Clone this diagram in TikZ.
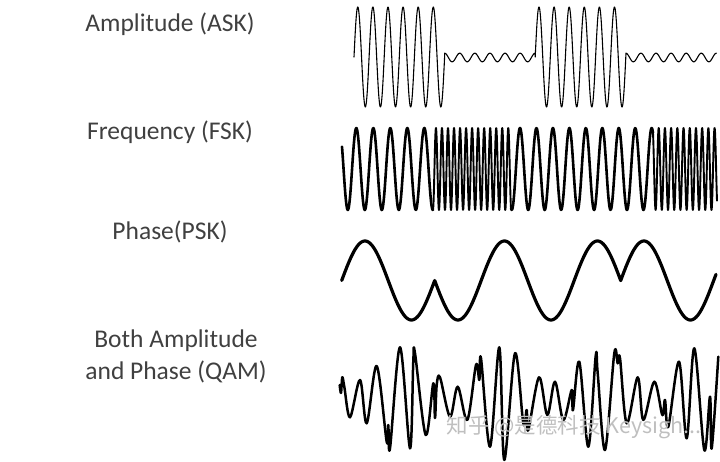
\documentclass[tikz,border=0pt]{standalone}
\usepackage{fontspec}
\setmainfont{Carlito}
\newfontfamily\cjkfont{Noto Sans CJK SC}
\definecolor{labelgray}{HTML}{404040}
\tikzset{
  modlbl/.style={text=labelgray, font=\fontsize{25.5}{30}\selectfont, anchor=base, inner sep=0pt},
  wavelines/.style={black, line join=round, line cap=round},
  askline/.style={wavelines, line width=1.1pt},
  fskline/.style={wavelines, line width=2.6pt},
  fskfast/.style={wavelines, line width=1.9pt},
  pskline/.style={wavelines, line width=3.2pt},
  qamline/.style={wavelines, line width=2.5pt},
  wmark/.style={text=gray!50, font=\cjkfont\fontsize{21.5}{21.5}\selectfont, inner sep=0pt},
}

\begin{document}
\begin{tikzpicture}[x=1pt,y=-1pt]
\useasboundingbox (0,0) rectangle (720,462);
\node[modlbl] (ask) at (170,31.5) {Amplitude (ASK)};
\node[modlbl] (fsk) at (170,140) {Frequency (FSK)};
\node[modlbl] (psk) at (170,240) {Phase(PSK)};
\node[modlbl] (qam1) at (176,347.3) {Both Amplitude};
\node[modlbl] (qam2) at (176,379.3) {and Phase (QAM)};
\draw[askline]
  plot[domain=354:444.6, samples=240] (\x,{57-50*sin(23.841*(\x-354))})
  -- plot[domain=444.6:535.2, samples=160] (\x,{57.5-4.3*cos(23.841*(\x-444.6))})
  -- plot[domain=535.2:625.8, samples=240] (\x,{57-50*sin(23.841*(\x-535.2))})
  -- plot[domain=625.8:716.4, samples=160] (\x,{57.5-4.3*cos(23.841*(\x-625.8))});
\draw[fskline] plot[domain=342:433, samples=200] (\x,{169-41*cos(57+21.176*(\x-342))});
\draw[fskfast] plot[domain=433:511, samples=420] (\x,{169-41*cos(1984.1+59.73*(\x-433))});
\draw[fskline] plot[domain=511:653, samples=300] (\x,{169-41*cos(21.87*(\x-520))});
\draw[fskfast] plot[domain=653:717, samples=360] (\x,{169-41*cos(28.7+58*(\x-653))});
\draw[pskline]
  plot[domain=341.7:434.7, samples=120] (\x,{280.5-39.5*sin(3.871*(\x-341.7))})
  -- plot[domain=434.7:620.7, samples=240] (\x,{280.5+39.5*sin(3.871*(\x-341.7))})
  -- plot[domain=620.7:716, samples=120] (\x,{280.5-39.5*sin(3.871*(\x-341.7))});
\draw[qamline] plot[smooth, tension=0.55] coordinates {
  (339.7,385) (341,393) (342.3,377.3) (344.3,386.7) (350,417.3) (360,380)
  (366.7,423.3) (376.7,366) (386.7,441.7) (388.3,425) (390,448.3) (400,347.3)
  (410,448.3) (413.3,361) (415,353.3) (425.7,435) (433.3,383.3) (435,418)
  (436.7,385) (440,377.3) (450,416.7) (457.7,386.7) (467.3,420) (476,365)
  (479.3,380) (481,358.3) (490,446.7) (499.3,347.3) (504.3,460) (515,353.3)
  (523.3,423.3) (526.7,410) (528.3,430) (539,377.3) (547.3,415) (555,381.7)
  (563.3,420) (571.7,390) (573,410) (579.3,361.7) (588.3,446.7) (595.7,356)
  (597.7,373.3) (605,450) (614.3,353.3) (617.7,363.3) (620,358.3) (626.7,423.3)
  (637.7,377.3) (643.3,420) (654.3,381.7) (662.3,415) (665,400) (668.3,426.7)
  (679,361.7) (686.7,438.3) (694.3,348.3) (704.3,450) (710,396.7) (711.7,448.3)
  (718.3,356.7)};
\node[wmark] (mark) at (574,427.5) {知乎 @是德科技 Keysigh...};
\end{tikzpicture}
\end{document}
